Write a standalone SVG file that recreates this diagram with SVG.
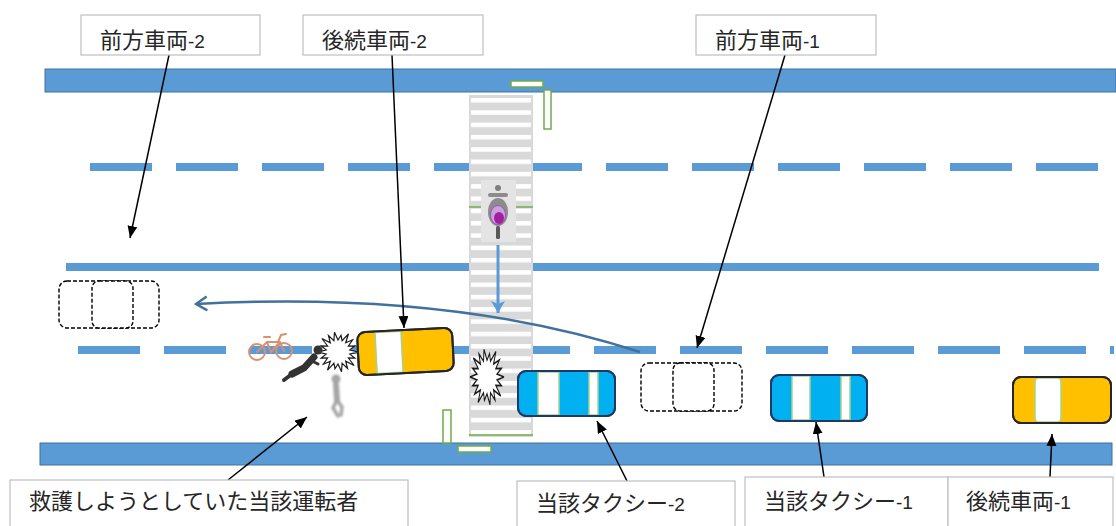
<svg xmlns="http://www.w3.org/2000/svg" width="1116" height="526" viewBox="0 0 1116 526">
  <style>
    .band { fill: #5b9bd5; stroke: #41719c; stroke-width: 1; }
    .lane { fill: #5b9bd5; }
    .mark { fill: #ffffff; stroke: #70ad47; stroke-width: 1.5; }
    .box { fill: #ffffff; stroke: #bfbfbf; stroke-width: 1.2; }
    .lbl { font-family: 'Noto Sans CJK JP', 'Noto Sans CJK SC', sans-serif; font-size: 22px; fill: #262626; }
    .num { font-family: 'Liberation Sans', Arial, sans-serif; font-size: 19px; }
    .taxi { fill: #00b0f0; stroke: #1f3864; stroke-width: 2; }
    .follow { fill: #ffc000; stroke: #262626; stroke-width: 2; }
    .win { fill: #ffffff; stroke: #a9d18e; stroke-width: 1.5; }
    .ghost { fill: #ffffff; stroke: #000000; stroke-width: 1.4; stroke-dasharray: 4 2; }
    .lead { fill: none; stroke: #000000; stroke-width: 1.5; marker-end: url(#head); }
    .boom { fill: #ffffff; stroke: #1a1a1a; stroke-width: 1.2; stroke-linejoin: miter; }
  </style>
  <defs>
    <marker id="head" markerUnits="userSpaceOnUse" markerWidth="13" markerHeight="11" refX="12" refY="5" orient="auto">
      <path d="M0,0 L12,5 L0,10 z" fill="#000000"/>
    </marker>
    <marker id="blueHead" markerUnits="userSpaceOnUse" markerWidth="14" markerHeight="16" refX="12" refY="8" orient="auto">
      <path d="M0,1 L12,8 L0,15 L3,8 z" fill="#5b9bd5"/>
    </marker>
    <marker id="pathHead" markerUnits="userSpaceOnUse" markerWidth="14" markerHeight="16" refX="12" refY="8" orient="auto">
      <path d="M1,1 L12,8 L1,15" fill="none" stroke="#41719c" stroke-width="2.5"/>
    </marker>
    <pattern id="zebra" x="469" y="98" width="64" height="12.3" patternUnits="userSpaceOnUse">
      <rect x="2" y="0" width="60" height="4.5" fill="#ffffff"/>
    </pattern>
    <!-- jagged burst used for the impact points -->
    <polygon id="star" points="20,0 11.8,2.1 16.9,6.2 10.4,6 16.1,13.5 7.7,9.2 9.5,16.5 4.1,11.3 3.5,19.7 0,12 -3,16.7 -4.1,11.3 -10.5,18.2 -7.7,9.2 -14.6,12.2 -10.4,6 -16.9,6.2 -11.8,2.1 -20,0 -11.8,-2.1 -16.9,-6.2 -10.4,-6 -16.1,-13.5 -7.7,-9.2 -9.5,-16.5 -4.1,-11.3 -3.5,-19.7 0,-12 3,-16.7 4.1,-11.3 10.5,-18.2 7.7,-9.2 14.6,-12.2 10.4,-6 16.9,-6.2 11.8,-2.1"/>
    <filter id="soft" x="-30%" y="-30%" width="160%" height="160%">
      <feGaussianBlur stdDeviation="1.2"/>
    </filter>
  </defs>

  <rect width="1116" height="526" fill="#ffffff"/>

  <!-- road edges and lane markings -->
  <g id="road">
    <rect class="band" x="45" y="69" width="1071" height="23"/>
    <rect class="band" x="40" y="443" width="1072" height="22"/>
    <rect class="lane" x="66" y="263" width="1033" height="8"/>
    <!-- upper broken lane line -->
    <g class="lane">
      <rect x="90" y="163" width="62" height="8"/>
      <rect x="176" y="163" width="62" height="8"/>
      <rect x="262" y="163" width="62" height="8"/>
      <rect x="348" y="163" width="62" height="8"/>
      <rect x="434" y="163" width="62" height="8"/>
      <rect x="520" y="163" width="62" height="8"/>
      <rect x="606" y="163" width="62" height="8"/>
      <rect x="692" y="163" width="62" height="8"/>
      <rect x="778" y="163" width="62" height="8"/>
      <rect x="864" y="163" width="62" height="8"/>
      <rect x="950" y="163" width="62" height="8"/>
      <rect x="1036" y="163" width="62" height="8"/>
    </g>
    <!-- lower broken lane line -->
    <g class="lane">
      <rect x="78" y="346" width="62" height="8"/>
      <rect x="164" y="346" width="62" height="8"/>
      <rect x="250" y="346" width="62" height="8"/>
      <rect x="336" y="346" width="62" height="8"/>
      <rect x="422" y="346" width="62" height="8"/>
      <rect x="508" y="346" width="62" height="8"/>
      <rect x="594" y="346" width="62" height="8"/>
      <rect x="680" y="346" width="62" height="8"/>
      <rect x="766" y="346" width="62" height="8"/>
      <rect x="852" y="346" width="62" height="8"/>
      <rect x="938" y="346" width="62" height="8"/>
      <rect x="1024" y="346" width="62" height="8"/>
      <rect x="1110" y="346" width="4" height="8"/>
    </g>
  </g>

  <!-- pedestrian crossing -->
  <g id="crossing">
    <rect x="469" y="95" width="64" height="342" fill="#d9d9d9"/>
    <rect x="469" y="95" width="64" height="342" fill="url(#zebra)"/>
    <rect x="481" y="180" width="35" height="62" fill="#e4e4e4"/>
    <line x1="469" y1="207" x2="481" y2="207" stroke="#70ad47" stroke-width="1.5"/>
    <line x1="516" y1="207" x2="533" y2="207" stroke="#70ad47" stroke-width="1.5"/>
    <line x1="469" y1="435" x2="533" y2="435" stroke="#70ad47" stroke-width="1.5"/>
  </g>

  <!-- kerb-side markers -->
  <g id="markers">
    <rect class="mark" x="511" y="81" width="32" height="6"/>
    <rect class="mark" x="544" y="90" width="7" height="39"/>
    <rect class="mark" x="443" y="410" width="8" height="33"/>
    <rect class="mark" x="458" y="446" width="33" height="6"/>
  </g>

  <!-- motorcycle on the crossing -->
  <g id="motorcycle">
    <circle cx="498" cy="188" r="3" fill="#7f7f7f"/>
    <rect x="488" y="193" width="20" height="4" rx="2" fill="#8c8c8c"/>
    <ellipse cx="498" cy="212" rx="10" ry="14" fill="#8c8c8c"/>
    <ellipse cx="498" cy="215" rx="7.5" ry="9.5" fill="#c9a0dc" stroke="#9b59b6" stroke-width="1"/>
    <ellipse cx="499" cy="218" rx="5" ry="6" fill="#a020a0"/>
    <rect x="496" y="226" width="4" height="13" rx="1.5" fill="#595959"/>
  </g>

  <!-- vehicles -->
  <g id="front-vehicle-2">
    <rect class="ghost" x="59" y="281" width="100" height="47" rx="8"/>
    <rect class="ghost" x="92" y="281" width="41" height="47" rx="7"/>
  </g>
  <g id="front-vehicle-1">
    <rect class="ghost" x="641" y="363" width="101" height="48" rx="8"/>
    <rect class="ghost" x="673" y="363" width="41" height="48" rx="7"/>
  </g>

  <!-- collision marks -->
  <g id="impacts">
    <use href="#star" class="boom" transform="translate(338 352)"/>
    <use href="#star" class="boom" transform="translate(487 377) scale(0.85 1.4)"/>
  </g>

  <g id="following-vehicle-2" transform="rotate(-3 405 351)">
    <rect class="follow" x="358" y="330" width="95" height="43" rx="8"/>
    <rect class="win" x="376" y="331" width="26" height="41"/>
    <rect x="358" y="330" width="95" height="43" rx="8" fill="none" stroke="#262626" stroke-width="2"/>
  </g>
  <g id="taxi-2">
    <rect class="taxi" x="518" y="371" width="97" height="45" rx="8"/>
    <rect class="win" x="538" y="372" width="21" height="43"/>
    <rect class="win" x="589" y="372" width="9" height="43"/>
    <rect x="518" y="371" width="97" height="45" rx="8" fill="none" stroke="#1f3864" stroke-width="2"/>
  </g>
  <g id="taxi-1">
    <rect class="taxi" x="771" y="375" width="96" height="46" rx="8"/>
    <rect class="win" x="792" y="376" width="18" height="44"/>
    <rect class="win" x="841" y="376" width="9" height="44"/>
    <rect x="771" y="375" width="96" height="46" rx="8" fill="none" stroke="#1f3864" stroke-width="2"/>
  </g>
  <g id="following-vehicle-1">
    <rect class="follow" x="1013" y="377" width="98" height="46" rx="8"/>
    <rect class="win" x="1035" y="378" width="26" height="44" rx="4"/>
    <rect x="1013" y="377" width="98" height="46" rx="8" fill="none" stroke="#262626" stroke-width="2"/>
  </g>

  <!-- bicycle and people -->
  <g id="bicycle" fill="none" stroke="#d9906f" stroke-width="2" stroke-linecap="round">
    <circle cx="257" cy="352" r="8"/>
    <circle cx="284" cy="351" r="8"/>
    <path d="M257,352 L267,342 L280,342 L284,351 M267,342 L271,352 L280,342 M264,337 L270,337 M278,342 L281,335 L286,334"/>
  </g>
  <g id="fallen-driver" stroke="#333333" stroke-linecap="round" fill="none">
    <circle cx="318" cy="350" r="4.5" fill="#333333" stroke="none"/>
    <path d="M314,357 L304,368 L292,374" stroke-width="7"/>
    <path d="M292,374 L284,380" stroke-width="4"/>
    <path d="M310,360 L318,364" stroke-width="3"/>
  </g>
  <g id="rescuer" filter="url(#soft)" stroke="#a6a6a6" stroke-linecap="round" fill="none">
    <circle cx="336" cy="379" r="4.5" fill="#a6a6a6" stroke="none"/>
    <path d="M336,385 L337,400" stroke-width="6"/>
    <path d="M337,400 L333,408 L338,416 M337,400 L342,407 L341,415" stroke-width="3.5"/>
  </g>

  <!-- movement paths and leader lines -->
  <g id="connectors">
    <line x1="498" y1="245" x2="498" y2="313" stroke="#5b9bd5" stroke-width="3" marker-end="url(#blueHead)"/>
    <path d="M640,352 Q450,290 196,304" fill="none" stroke="#41719c" stroke-width="2.5" marker-end="url(#pathHead)"/>
    <line class="lead" x1="169" y1="55" x2="130" y2="238"/>
    <line class="lead" x1="392" y1="55" x2="404" y2="328"/>
    <line class="lead" x1="785" y1="55" x2="697" y2="348"/>
    <line class="lead" x1="228" y1="480" x2="307" y2="417"/>
    <line class="lead" x1="627" y1="481" x2="597" y2="421"/>
    <line class="lead" x1="824" y1="477" x2="816" y2="422"/>
    <line class="lead" x1="1050" y1="477" x2="1052" y2="434"/>
  </g>

  <!-- labels -->
  <g id="label-front-2">
    <rect class="box" x="81" y="15" width="179" height="40"/>
    <text class="lbl" x="100" y="48">前方車両<tspan class="num">-2</tspan></text>
  </g>
  <g id="label-following-2">
    <rect class="box" x="303" y="15" width="180" height="40"/>
    <text class="lbl" x="322" y="48">後続車両<tspan class="num">-2</tspan></text>
  </g>
  <g id="label-front-1">
    <rect class="box" x="696" y="15" width="180" height="40"/>
    <text class="lbl" x="715" y="48">前方車両<tspan class="num">-1</tspan></text>
  </g>
  <g id="label-driver">
    <rect class="box" x="10" y="480" width="398" height="60"/>
    <text class="lbl" x="29" y="509">救護しようとしていた当該運転者</text>
  </g>
  <g id="label-taxi-2">
    <rect class="box" x="517" y="481" width="218" height="60"/>
    <text class="lbl" x="536" y="511">当該タクシー<tspan class="num">-2</tspan></text>
  </g>
  <g id="label-taxi-1">
    <rect class="box" x="745" y="477" width="203" height="60"/>
    <text class="lbl" x="764" y="509">当該タクシー<tspan class="num">-1</tspan></text>
  </g>
  <g id="label-following-1">
    <rect class="box" x="948" y="477" width="165" height="60"/>
    <text class="lbl" x="966" y="509">後続車両<tspan class="num">-1</tspan></text>
  </g>
</svg>
